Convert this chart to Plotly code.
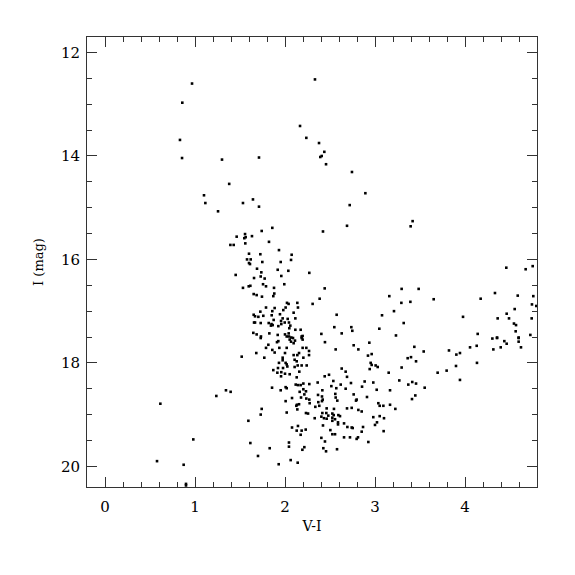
import plotly.graph_objects as go

# V-I colour and I magnitude of each star
vi = [
 0.967, 0.859, 0.833, 0.856, 1.30, 1.38,
 2.333, 2.167, 2.237, 2.378, 2.437, 2.408, 2.392, 2.456, 2.744, 1.711,
 1.10, 1.115, 1.256, 1.463, 1.393, 1.43, 1.452,
 2.893, 1.644, 1.533, 1.711, 2.719, 2.689, 2.422, 1.859, 1.741, 1.556, 1.563, 1.548, 1.633,
 1.559, 1.822, 1.933, 2.074, 2.067, 1.60, 1.726, 1.578, 1.619, 1.60, 1.611, 1.748, 1.952,
 1.689, 1.737, 1.919, 2.037, 2.27, 1.959, 1.73, 1.656, 1.774, 1.756, 1.789, 1.992, 1.615,
 1.597, 1.533, 1.878, 2.441, 1.652, 1.685, 1.744, 1.881, 1.87, 2.385, 2.022, 2.04, 2.137,
 2.307, 1.789, 1.885, 2.007, 2.144, 1.981, 1.859, 1.726, 2.096, 1.944, 1.852, 1.652, 1.667,
 1.704, 1.759, 2.574, 3.078, 1.974, 2.03, 1.874, 2.115, 1.656, 1.667, 1.73, 1.819, 1.85,
 1.863, 1.844, 1.956, 1.959, 1.997, 2.044, 2.059, 1.926, 2.174, 2.115, 2.048, 2.548, 2.737,
 2.748, 2.63, 2.404, 3.048, 1.648, 1.685, 1.826, 1.919, 2.0, 2.041, 2.019, 2.044, 2.07,
 2.185, 2.196, 1.733,
 3.418, 3.396, 4.459, 4.674, 4.752, 3.296, 3.485, 3.159, 3.293, 3.393, 3.652, 3.211, 3.319,
 3.233, 3.978, 4.174, 4.333, 4.586, 4.759, 4.744, 4.792, 4.552, 4.463, 4.489, 4.363, 4.741,
 4.544, 4.567, 4.563, 4.596, 4.726, 4.141, 4.356,
 4.304, 4.356, 4.437, 4.463, 4.596, 4.596, 4.622, 4.056, 4.13, 4.315, 4.397, 3.822, 3.904,
 3.944, 4.133, 3.437, 3.541, 3.363, 3.40, 3.456, 3.296, 3.696, 3.796, 3.90, 3.152, 3.27,
 3.37, 3.414, 3.456, 3.552, 3.944, 3.167, 3.411, 3.448, 3.167, 3.226,
 0.615, 1.237, 1.344, 1.396, 0.981, 0.578, 0.874, 0.90, 0.90,
 1.73, 1.911, 1.926, 2.052, 2.067, 2.089, 2.111, 2.096, 2.185, 2.196, 2.444, 2.763, 2.937,
 2.815, 2.563, 1.815, 1.789, 1.859, 1.885, 1.937, 2.019, 2.196, 2.237, 2.267, 1.681, 2.0,
 2.096, 2.137, 2.156, 2.267, 1.519, 1.77, 1.974, 1.974, 2.107, 2.13, 2.204, 2.922, 2.963,
 1.933, 2.007, 2.019, 2.026, 2.185, 2.241, 1.922, 1.978, 2.107, 2.141, 1.87, 1.915, 1.959,
 2.0, 2.052, 2.159, 1.956, 2.13, 2.441, 2.489, 2.63, 2.674, 2.689, 2.952, 2.963, 3.007,
 3.03, 2.941, 2.537, 2.363, 2.119, 2.144, 2.174, 2.204, 2.27, 2.885, 2.733, 2.619, 2.981,
 1.856, 2.007, 2.019, 1.952, 2.163, 2.204, 2.233, 2.415, 2.515, 2.57, 2.674, 2.856, 3.019,
 2.763, 2.559, 2.367, 2.215, 2.078, 2.178, 2.237, 2.27, 2.411, 2.419, 2.411, 2.563, 2.581,
 2.796, 2.789, 2.911, 2.007, 2.37, 3.037, 3.052, 3.093, 2.133, 2.156, 2.274, 2.337, 2.381,
 2.741, 2.689, 2.463, 2.544, 1.741, 2.126, 2.137, 2.815, 2.019, 1.73, 2.233, 2.256, 2.459,
 2.481, 2.526, 2.541, 2.852, 2.593, 2.611, 2.415, 2.404, 2.33, 2.433, 2.463, 2.526, 2.556,
 2.526, 2.981, 3.052, 3.10, 1.593, 2.589, 2.589, 2.422, 2.656, 3.022, 3.0, 2.078, 2.144,
 2.693, 2.741, 2.752, 2.867, 3.096, 2.13, 2.185, 2.23, 2.504, 2.174, 2.526, 2.556, 2.656,
 2.722, 2.796, 2.811, 2.852, 2.404, 2.444, 2.926, 2.044, 2.044, 1.615, 1.83, 2.215, 2.193,
 2.426, 2.456, 2.578, 1.70, 2.063, 2.141, 1.93,
]
imag = [
 12.60, 12.97, 13.69, 14.04, 14.07, 14.54,
 12.52, 13.42, 13.65, 13.75, 13.92, 14.00, 14.02, 14.16, 14.31, 14.03,
 14.76, 14.91, 15.07, 15.56, 15.72, 15.72, 16.30,
 14.72, 14.84, 14.91, 14.98, 14.95, 15.35, 15.46, 15.39, 15.45, 15.51, 15.57, 15.59, 15.55,
 15.69, 15.66, 15.82, 15.91, 16.01, 15.89, 15.90, 16.00, 16.00, 16.07, 16.09, 16.05, 16.05,
 16.18, 16.25, 16.20, 16.22, 16.26, 16.32, 16.33, 16.36, 16.37, 16.48, 16.52, 16.48, 16.51,
 16.52, 16.55, 16.55, 16.56, 16.67, 16.69, 16.72, 16.66, 16.71, 16.76, 16.84, 16.86, 16.84,
 16.86, 16.93, 16.94, 16.93, 16.93, 16.98, 17.00, 17.01, 17.03, 17.06, 17.08, 17.07, 17.10,
 17.11, 17.09, 17.07, 17.08, 17.14, 17.15, 17.17, 17.14, 17.22, 17.22, 17.23, 17.23, 17.25,
 17.27, 17.28, 17.19, 17.25, 17.22, 17.22, 17.28, 17.29, 17.36, 17.36, 17.33, 17.31, 17.31,
 17.38, 17.43, 17.44, 17.34, 17.42, 17.45, 17.43, 17.46, 17.45, 17.43, 17.49, 17.49, 17.51,
 17.49, 17.48, 17.49,
 15.26, 15.36, 16.16, 16.19, 16.13, 16.57, 16.57, 16.71, 16.84, 16.82, 16.77, 17.00, 17.23,
 17.47, 17.11, 16.76, 16.65, 16.70, 16.71, 16.87, 16.90, 16.96, 17.05, 17.14, 17.14, 17.14,
 17.24, 17.27, 17.39, 17.51, 17.46, 17.44, 17.51,
 17.53, 17.52, 17.58, 17.63, 17.52, 17.59, 17.70, 17.70, 17.67, 17.74, 17.70, 17.76, 17.84,
 17.81, 18.00, 17.69, 17.78, 17.91, 17.89, 17.97, 18.09, 18.19, 18.15, 18.06, 18.19, 18.34,
 18.42, 18.37, 18.40, 18.48, 18.33, 18.53, 18.70, 18.63, 18.81, 18.89,
 18.79, 18.64, 18.53, 18.56, 19.48, 19.90, 19.97, 20.34, 20.37,
 17.52, 17.60, 17.58, 17.55, 17.59, 17.52, 17.57, 17.62, 17.52, 17.55, 17.60, 17.66, 17.61,
 17.74, 17.74, 17.65, 17.71, 17.75, 17.80, 17.71, 17.71, 17.71, 17.71, 17.77, 17.81, 17.81,
 17.85, 17.85, 17.81, 17.85, 17.88, 17.90, 17.90, 17.95, 17.94, 17.97, 17.90, 17.86, 17.83,
 18.00, 18.00, 18.03, 18.07, 18.05, 18.05, 18.10, 18.10, 18.08, 18.05, 18.14, 18.19, 18.18,
 18.21, 18.22, 18.17, 18.26, 18.28, 18.26, 18.23, 18.11, 18.17, 18.27, 18.00, 18.04, 18.05,
 18.08, 18.12, 18.35, 18.38, 18.42, 18.43, 18.43, 18.40, 18.41, 18.36, 18.39, 18.42, 18.38,
 18.48, 18.47, 18.49, 18.53, 18.56, 18.51, 18.55, 18.53, 18.45, 18.49, 18.50, 18.46, 18.52,
 18.61, 18.60, 18.62, 18.61, 18.68, 18.67, 18.69, 18.71, 18.65, 18.71, 18.74, 18.67, 18.73,
 18.71, 18.73, 18.66, 18.74, 18.76, 18.78, 18.83, 18.83, 18.81, 18.80, 18.78, 18.85, 18.83,
 18.87, 18.88, 18.88, 18.89, 18.89, 18.83, 18.90, 18.91, 18.96, 19.00, 18.97, 18.98, 18.97,
 19.02, 18.98, 19.01, 18.94, 19.01, 19.03, 18.97, 19.04, 19.07, 19.07, 19.08, 19.06, 19.09,
 19.12, 19.05, 19.03, 19.07, 19.12, 19.15, 19.19, 19.21, 19.17, 19.15, 19.20, 19.25, 19.22,
 19.24, 19.25, 19.26, 19.24, 19.32, 19.31, 19.31, 19.29, 19.30, 19.39, 19.38, 19.38, 19.44,
 19.44, 19.47, 19.44, 19.33, 19.45, 19.52, 19.53, 19.54, 19.62, 19.55, 19.65, 19.63, 19.68,
 19.65, 19.71, 19.67, 19.80, 19.88, 19.93, 19.96,
]

x_ticks = [0, 1, 2, 3, 4]
y_ticks = [12, 14, 16, 18, 20]

font_family = "DejaVu Serif"
axis_col = "#333333"

fig = go.Figure(go.Scatter(
    x=vi, y=imag, mode="markers",
    marker=dict(symbol="square", size=2.6, color="black", line=dict(width=0)),
    hoverinfo="x+y",
))

common = dict(
    showgrid=False, zeroline=False, showline=True, linecolor=axis_col, linewidth=1,
    mirror="allticks", ticks="inside", ticklen=10, tickwidth=1, tickcolor=axis_col,
    tickfont=dict(family=font_family, size=15, color="black"), automargin=False,
)

fig.update_xaxes(
    range=[-0.2, 4.8], tickmode="array", tickvals=x_ticks, ticktext=[str(v) for v in x_ticks],
    minor=dict(dtick=0.2, tick0=0, ticks="inside", ticklen=5, tickwidth=1, tickcolor=axis_col),
    title=dict(text="V-I", font=dict(family=font_family, size=14, color="black"), standoff=6),
    ticklabelstandoff=6,
    **common,
)
fig.update_yaxes(
    range=[20.4, 11.7], tickmode="array", tickvals=y_ticks, ticktext=[str(v) for v in y_ticks],
    minor=dict(dtick=0.5, tick0=12, ticks="inside", ticklen=5, tickwidth=1, tickcolor=axis_col),
    title=dict(text="I (mag)", font=dict(family=font_family, size=13, color="black"), standoff=14),
    ticklabelstandoff=3,
    **common,
)

fig.update_layout(
    width=575, height=575,
    margin=dict(l=79, r=46, t=29, b=96),
    paper_bgcolor="white", plot_bgcolor="white",
    showlegend=False,
)

fig.write_html("out.html")
